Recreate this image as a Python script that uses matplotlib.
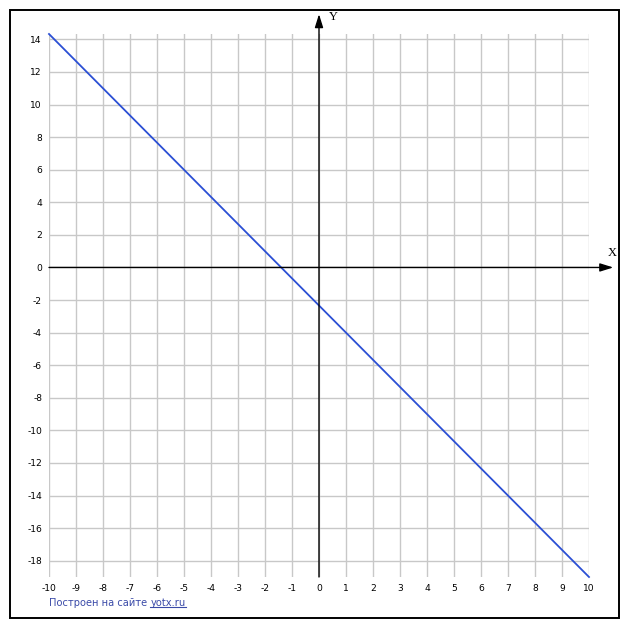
import numpy as np
import matplotlib
matplotlib.use('Agg')
import matplotlib.pyplot as plt
from matplotlib.patches import Rectangle

# line (end points)
line_x = [-10, 10]
line_y = [14.33, -19]

x_ticks = list(range(-10, 11))
y_ticks = list(range(-18, 15, 2))

W, H = 627, 630
fig = plt.figure(figsize=(W / 100, H / 100), dpi=100)

# axes area in pixels: x 49..589, y 34..577
left, right, top, bottom = 49, 589, 34, 577
ax = fig.add_axes([left / W, 1 - bottom / H, (right - left) / W, (bottom - top) / H])
ax.set_xlim(-10, 10)
ax.set_ylim(-19, 14.33)

for s in ax.spines.values():
    s.set_visible(False)

ax.set_xticks(x_ticks)
ax.set_yticks(y_ticks)
ax.set_xticklabels([str(v) for v in x_ticks])
ax.set_yticklabels([str(v) for v in y_ticks])
ax.tick_params(length=0, labelsize=6.6, pad=5)
ax.grid(True, color='#c8c8c8', linewidth=1.0)
ax.set_axisbelow(True)

# axes with arrows
arrow = dict(arrowstyle='-|>,head_length=0.8,head_width=0.25',
             color='black', lw=1.0, shrinkA=0, shrinkB=0)
ax.annotate('', xy=(10.9, 0), xytext=(-10, 0), annotation_clip=False,
            arrowprops=arrow)
ax.annotate('', xy=(0, 15.55), xytext=(0, -19), annotation_clip=False,
            arrowprops=arrow)
ax.text(10.85, 0.9, 'X', family='Liberation Serif', fontsize=9,
        ha='center', va='center', clip_on=False)
ax.text(0.52, 15.4, 'Y', family='Liberation Serif', fontsize=9,
        ha='center', va='center', clip_on=False)

ax.plot(line_x, line_y, color='#2b4fd4', linewidth=1.3, clip_on=False)

# outer frame
fig.patches.append(Rectangle((9.5 / W, 1 - 618 / H), 609 / W, 608.5 / H,
                             transform=fig.transFigure, fill=False,
                             edgecolor='black', linewidth=1.4))

# site caption
wm_color = '#3a4aa8'
t1 = fig.text(49 / W, 1 - 603 / H, 'Построен на сайте ', fontsize=7.1,
              color=wm_color, va='center', ha='left')
fig.canvas.draw()
r = fig.canvas.get_renderer()
bb = t1.get_window_extent(r)
t2 = fig.text(bb.x1 / W, 1 - 603 / H, 'yotx.ru', fontsize=7.1,
              color=wm_color, va='center', ha='left')
bb2 = t2.get_window_extent(r)
uy = bb2.y0 + 1
fig.add_artist(plt.Line2D([bb2.x0 / W, bb2.x1 / W], [uy / H, uy / H],
                          transform=fig.transFigure, color=wm_color, lw=0.8))

fig.savefig('out.png', dpi=100)
